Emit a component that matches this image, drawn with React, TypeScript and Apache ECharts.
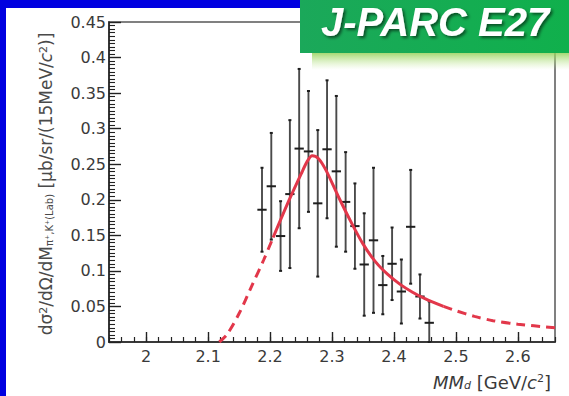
import React, { useEffect, useRef } from 'react';
import * as echarts from 'echarts';

// Data points (bin centres in GeV/c^2), cross-section values and symmetric errors
const massGeV = [2.187, 2.202, 2.217, 2.232, 2.247, 2.262, 2.277, 2.292, 2.307, 2.322, 2.337, 2.352, 2.367, 2.382, 2.397, 2.412, 2.427, 2.442, 2.457];
const crossSection = [0.186, 0.219, 0.149, 0.208, 0.272, 0.268, 0.195, 0.271, 0.240, 0.197, 0.163, 0.109, 0.143, 0.080, 0.110, 0.071, 0.162, 0.064, 0.027];
const crossSectionErr = [0.059, 0.075, 0.049, 0.104, 0.112, 0.085, 0.103, 0.097, 0.106, 0.070, 0.060, 0.072, 0.102, 0.041, 0.051, 0.045, 0.080, 0.031, 0.030];
const binHalfWidth = 0.0075;

// Fit curve: dashed left part, solid middle, dashed right part
const fitLeftX = [2.118, 2.13, 2.15, 2.17, 2.19, 2.205];
const fitLeftY = [0, 0.01, 0.04, 0.078, 0.116, 0.147];
const fitMidX = [2.205, 2.23, 2.25, 2.26, 2.268, 2.278, 2.29, 2.31, 2.33, 2.35, 2.37, 2.39, 2.41, 2.43, 2.45, 2.48];
const fitMidY = [0.147, 0.198, 0.236, 0.254, 0.262, 0.258, 0.242, 0.205, 0.17, 0.138, 0.113, 0.095, 0.081, 0.07, 0.061, 0.05];
const fitRightX = [2.48, 2.5, 2.53, 2.56, 2.6, 2.66];
const fitRightY = [0.05, 0.044, 0.036, 0.03, 0.025, 0.02];

// Axes
const xMin = 1.94;
const xMax = 2.66;
const xMajorTicks = [2, 2.1, 2.2, 2.3, 2.4, 2.5, 2.6];
const xMinorStep = 0.02;
const yMin = 0;
const yMax = 0.45;
const yInterval = 0.05;

const TICK_FONT = 'DejaVu Sans';
const TEXT_COLOR = '#3a3a3a';

export default function App() {
  const ref = useRef<HTMLDivElement>(null);

  useEffect(() => {
    if (!ref.current) return;
    const chart = echarts.init(ref.current, null, { renderer: 'svg' });

    const xMinorTicks: number[] = [];
    for (let i = 0; xMin + i * xMinorStep <= xMax + 1e-9; i++) {
      xMinorTicks.push(Math.round((xMin + i * xMinorStep) * 1000) / 1000);
    }

    const errData = massGeV.map((m, i) => [
      m,
      crossSection[i],
      Math.max(0, crossSection[i] - crossSectionErr[i]),
      crossSection[i] + crossSectionErr[i],
    ]);

    const pairs = (xs: number[], ys: number[]) => xs.map((x, i) => [x, ys[i]]);

    const red = '#e2374a';

    const option: any = {
      animation: false,
      backgroundColor: '#ffffff',
      grid: {
        left: 109,
        right: 14,
        top: 22,
        bottom: 54,
        show: true,
        borderColor: '#808080',
        borderWidth: 2,
        backgroundColor: 'transparent',
      },
      xAxis: [
        {
          type: 'value',
          min: xMin,
          max: xMax,
          position: 'bottom',
          splitLine: { show: false },
          axisLine: { show: true, onZero: false, lineStyle: { color: '#222', width: 1.6 } },
          axisTick: {
            show: true,
            inside: true,
            length: 10,
            customValues: xMajorTicks,
            lineStyle: { color: '#222', width: 1.4 },
          },
          axisLabel: {
            show: true,
            customValues: xMajorTicks,
            margin: 6,
            fontFamily: TICK_FONT,
            fontSize: 16,
            color: TEXT_COLOR,
            formatter: (v: number) => String(Math.round(v * 10) / 10),
          },
        },
        {
          type: 'value',
          min: xMin,
          max: xMax,
          position: 'bottom',
          splitLine: { show: false },
          axisLine: { show: false },
          axisTick: {
            show: true,
            inside: true,
            length: 5,
            customValues: xMinorTicks,
            lineStyle: { color: '#222', width: 1.2 },
          },
          axisLabel: { show: false },
        },
      ],
      yAxis: {
        type: 'value',
        min: yMin,
        max: yMax,
        interval: yInterval,
        splitLine: { show: false },
        axisLine: { show: true, onZero: false, lineStyle: { color: '#222', width: 1.6 } },
        axisTick: { show: true, inside: true, length: 12, lineStyle: { color: '#222', width: 1.4 } },
        minorTick: { show: true, splitNumber: 10, length: 6, lineStyle: { color: '#222', width: 1.1 } },
        minorSplitLine: { show: false },
        axisLabel: {
          margin: 3,
          fontFamily: TICK_FONT,
          fontSize: 16,
          color: TEXT_COLOR,
          formatter: (v: number) => String(Math.round(v * 100) / 100),
        },
      },
      series: [
        {
          type: 'custom',
          xAxisIndex: 0,
          yAxisIndex: 0,
          data: errData,
          encode: { x: 0, y: [1, 2, 3] },
          renderItem: (params: any, api: any) => {
            const x = api.value(0);
            const c = api.value(1);
            const lo = api.value(2);
            const hi = api.value(3);
            const pTop = api.coord([x, hi]);
            const pBot = api.coord([x, lo]);
            const pC = api.coord([x, c]);
            const pL = api.coord([x - binHalfWidth, c]);
            const pR = api.coord([x + binHalfWidth, c]);
            const cap = 1.5;
            return {
              type: 'group',
              children: [
                {
                  type: 'line',
                  shape: { x1: pTop[0], y1: pTop[1], x2: pBot[0], y2: pBot[1] },
                  style: { stroke: '#4a4a4a', lineWidth: 1.9 },
                },
                {
                  type: 'line',
                  shape: { x1: pL[0], y1: pC[1], x2: pR[0], y2: pC[1] },
                  style: { stroke: '#1e1e1e', lineWidth: 2 },
                },
                {
                  type: 'line',
                  shape: { x1: pTop[0] - cap, y1: pTop[1], x2: pTop[0] + cap, y2: pTop[1] },
                  style: { stroke: '#1e1e1e', lineWidth: 2 },
                },
                {
                  type: 'line',
                  shape: { x1: pBot[0] - cap, y1: pBot[1], x2: pBot[0] + cap, y2: pBot[1] },
                  style: { stroke: '#1e1e1e', lineWidth: 2 },
                },
              ],
            };
          },
          z: 2,
        },
        {
          type: 'line',
          xAxisIndex: 0,
          data: pairs(fitLeftX, fitLeftY),
          showSymbol: false,
          smooth: 0.3,
          lineStyle: { color: red, width: 3, type: [9, 6] },
          z: 3,
        },
        {
          type: 'line',
          xAxisIndex: 0,
          data: pairs(fitMidX, fitMidY),
          showSymbol: false,
          smooth: 0.3,
          lineStyle: { color: red, width: 3 },
          z: 3,
        },
        {
          type: 'line',
          xAxisIndex: 0,
          data: pairs(fitRightX, fitRightY),
          showSymbol: false,
          smooth: 0.3,
          lineStyle: { color: red, width: 3, type: [9, 6] },
          z: 3,
        },
      ],
      graphic: [
        { type: 'rect', z: 100, shape: { x: 0, y: 0, width: 6, height: 396 }, style: { fill: '#0000e0' } },
        { type: 'rect', z: 100, shape: { x: 0, y: 0, width: 300, height: 8 }, style: { fill: '#0000e0' } },
        {
          type: 'rect',
          z: 99,
          shape: { x: 312, y: 53, width: 257, height: 17 },
          style: {
            fill: new echarts.graphic.LinearGradient(0, 0, 0, 1, [
              { offset: 0, color: 'rgba(150,210,90,0.85)' },
              { offset: 1, color: 'rgba(200,235,160,0)' },
            ]),
          },
        },
        {
          type: 'rect',
          z: 100,
          shape: { x: 300, y: 0, width: 269, height: 53 },
          style: {
            fill: new echarts.graphic.LinearGradient(0, 0, 1, 0, [
              { offset: 0, color: '#1ba85a' },
              { offset: 1, color: '#10b04c' },
            ]),
          },
        },
        {
          type: 'text',
          z: 101,
          x: 321,
          y: 22,
          style: {
            text: 'J-PARC E27',
            fill: '#ffffff',
            fontFamily: 'Liberation Sans',
            fontWeight: 'bold',
            fontStyle: 'italic',
            fontSize: 40,
            textAlign: 'left',
            textVerticalAlign: 'middle',
            align: 'left',
            verticalAlign: 'middle',
            textShadowColor: 'rgba(0,0,0,0.55)',
            textShadowBlur: 3,
            textShadowOffsetX: 2,
            textShadowOffsetY: 2,
          },
        },
        {
          type: 'text',
          z: 50,
          x: 46,
          y: 184,
          rotation: Math.PI / 2,
          style: {
            text: '{m|dσ}{sup|2}{m|/dΩ/dM}{sub|π⁺,K⁺(Lab)}{m| [μb/sr/(15MeV/}{i|c}{sup|2}{m|)]}',
            fill: '#4a4a4a',
            textAlign: 'center',
            textVerticalAlign: 'middle',
            align: 'center',
            verticalAlign: 'middle',
            rich: {
              m: { fontFamily: TICK_FONT, fontSize: 17, fill: '#4a4a4a', color: '#4a4a4a' },
              i: { fontFamily: TICK_FONT, fontSize: 17, fontStyle: 'italic', fill: '#4a4a4a', color: '#4a4a4a' },
              sup: { fontFamily: TICK_FONT, fontSize: 11, verticalAlign: 'top', fill: '#4a4a4a', color: '#4a4a4a' },
              sub: { fontFamily: TICK_FONT, fontSize: 10, verticalAlign: 'bottom', fill: '#4a4a4a', color: '#4a4a4a' },
            },
          },
        },
        {
          type: 'text',
          z: 50,
          x: 551,
          y: 382,
          style: {
            text: '{i|MM}{sub|d}{m| [GeV/}{i|c}{sup|2}{m|]}',
            fill: TEXT_COLOR,
            textAlign: 'right',
            textVerticalAlign: 'middle',
            align: 'right',
            verticalAlign: 'middle',
            rich: {
              m: { fontFamily: TICK_FONT, fontSize: 18, fill: TEXT_COLOR, color: TEXT_COLOR },
              i: { fontFamily: TICK_FONT, fontSize: 18, fontStyle: 'italic', fill: TEXT_COLOR, color: TEXT_COLOR },
              sup: { fontFamily: TICK_FONT, fontSize: 11, verticalAlign: 'top', fill: TEXT_COLOR, color: TEXT_COLOR },
              sub: { fontFamily: TICK_FONT, fontSize: 11, fontStyle: 'italic', verticalAlign: 'bottom', fill: TEXT_COLOR, color: TEXT_COLOR },
            },
          },
        },
      ],
    };

    chart.setOption(option);
    return () => chart.dispose();
  }, []);

  return (
    <div
      ref={ref}
      style={{ position: 'absolute', left: 0, top: 0, width: 569, height: 396, background: '#fff' }}
    />
  );
}
